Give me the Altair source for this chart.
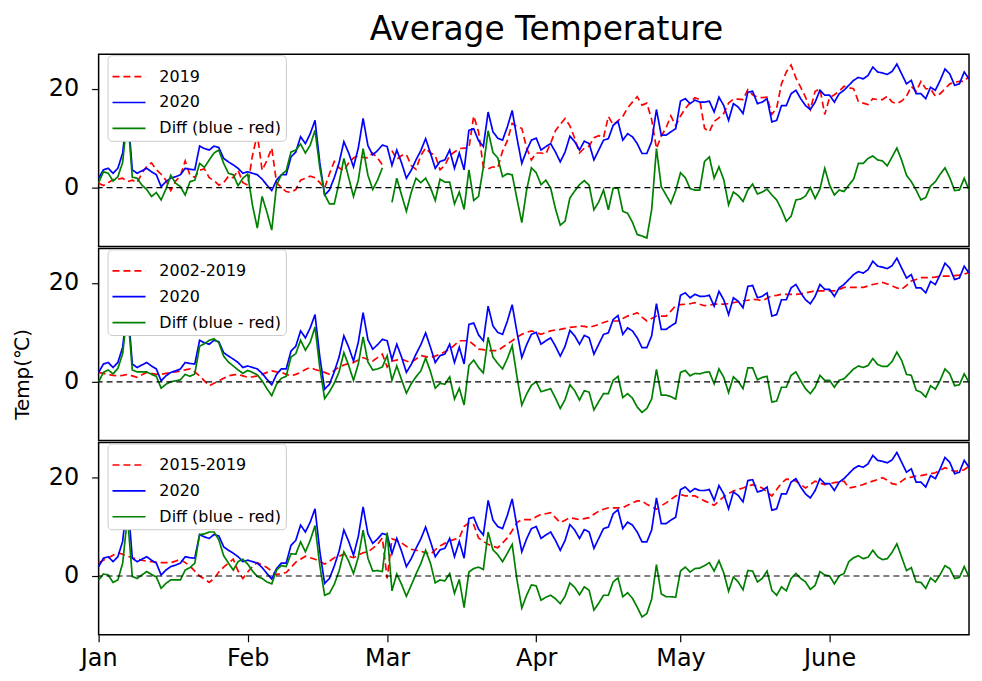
import json
import altair as alt
import numpy as np
import pandas as pd

# ---------------- data ----------------
dates = pd.date_range("2020-01-01", "2020-06-30", freq="D")  # 182 days

temp_2020 = [
    1.9, 3.6, 3.9, 2.9, 3.9, 7.0, 16.0, 3.6, 2.9, 3.4,
    3.9, 3.2, 2.6, 0.2, 1.2, 1.9, 2.2, 2.6, 3.9, 3.7,
    3.6, 8.4, 7.9, 7.6, 8.4, 8.1, 5.9, 5.2, 4.6, 3.9,
    2.9, 3.2, 2.9, 2.6, 1.7, 0.5, -0.6, 1.5, 2.6, 2.6,
    6.2, 7.2, 10.3, 8.9, 10.9, 13.6, 5.0, -1.5, -0.5, 2.0,
    5.0, 9.3, 7.0, 4.2, 8.0, 14.0, 8.5, 6.6, 7.5, 8.6,
    8.3, 4.5, 7.6, 5.0, 1.9, 3.5, 5.6, 7.5, 9.9, 7.0,
    3.9, 5.3, 5.6, 7.6, 3.9, 7.0, 3.6, 11.6, 11.9, 9.5,
    8.3, 15.3, 11.3, 10.0, 9.6, 12.3, 15.6, 10.0, 4.9, 7.5,
    9.6, 10.0, 7.6, 8.3, 8.9, 7.2, 5.2, 7.2, 10.4, 9.3,
    7.6, 9.4, 8.9, 5.6, 7.6, 9.6, 9.9, 12.6, 13.4, 9.6,
    10.9, 10.3, 8.9, 6.9, 6.9, 9.3, 15.8, 10.6, 10.6, 11.3,
    11.9, 17.5, 18.0, 17.0, 17.7, 17.3, 17.3, 17.5, 15.3, 18.3,
    16.6, 13.6, 17.0, 16.3, 15.0, 19.3, 19.5, 17.0, 17.3, 18.0,
    13.3, 13.6, 16.6, 16.6, 19.0, 19.7, 18.0, 16.6, 15.8, 17.3,
    19.7, 18.7, 18.7, 17.3, 19.0, 19.7, 20.7, 21.7, 22.3, 22.0,
    22.7, 24.4, 23.4, 23.2, 22.9, 23.5, 25.0, 23.0, 21.0, 21.7,
    19.0, 19.0, 18.0, 20.3, 19.7, 21.7, 24.0, 23.0, 20.7, 21.0,
    23.4, 22.0,
]

avg_2019 = [
    0.9, 0.4, 1.0, 1.6, 1.7, 1.9, 1.2, 1.5, 1.0, 2.9,
    4.3, 5.0, 3.6, 2.7, 1.5, -0.6, 1.3, 2.4, 5.4, 2.5,
    2.1, 3.5, 3.8, 2.0, 1.4, 0.5, 1.0, 2.3, 2.0, 3.5,
    1.0, 0.5, 6.5, 10.8, 3.5, 5.5, 8.0, 1.0, 0.0, -0.8,
    -1.0, -0.4, 1.5, 1.9, 2.3, 2.0, 1.0, -0.1, 2.8, 5.3,
    4.0, 3.4, 5.0, 6.0, 6.5, 6.1, 6.0, 7.0, 6.0, 4.6,
    None, 7.5, 5.7, 6.5, 6.7, 4.5, 3.7, 6.5, 8.0, 7.0,
    6.5, 3.6, 4.5, 6.5, 7.2, 7.9, 8.0, 8.0, 14.5, 11.3,
    4.2, 3.8, 4.2, 4.0, 7.4, 9.5, 13.0, 12.3, 12.0, 8.0,
    5.6, 7.0, 7.0, 6.8, 9.0, 11.5, 12.8, 14.0, 12.5, 10.0,
    7.0, 8.0, 8.4, 10.1, 10.5, 10.1, 14.4, 12.7, 13.5, 14.4,
    16.1, 17.3, 18.4, 16.7, 17.1, 13.8, 7.9, 10.4, 12.1, 14.5,
    12.5, 14.5, 16.0, 17.2, 18.2, 17.8, 12.0, 11.3, 13.4, 14.1,
    15.0, 17.1, 17.9, 17.9, 17.8, 19.8, 18.8, 18.3, 18.2, 18.3,
    14.8, 16.1, 21.0, 23.4, 24.8, 22.2, 20.3, 18.3, 15.8, 19.5,
    20.0, 14.8, 18.2, 18.8, 19.5, 20.5, 20.2, 20.0, 17.4, 17.1,
    16.8, 18.0, 17.8, 17.8, 18.5, 17.3, 17.0, 17.5, 18.5, 20.5,
    19.5, 21.5, 20.0, 20.0, 18.5, 19.0, 20.0, 21.0, 21.3, 21.5,
    21.5, 22.5,
]

avg_2002_2019 = [
    1.9, 1.7, 1.5, 1.3, 1.2, 1.3, 1.5, 1.2, 0.9, 1.4,
    1.9, 1.7, 1.5, 1.5, 1.7, 1.9, 2.0, 2.2, 2.4, 2.6,
    2.0, 1.2, 0.2, -0.8, -0.3, 0.2, 0.7, 1.2, 1.4, 1.5,
    1.2, 0.9, 1.0, 1.2, 1.5, 1.9, 2.2, 2.0, 1.9, 1.5,
    1.2, 1.5, 1.9, 2.5, 2.9, 2.5, 2.2, 1.9, 1.5, 2.3,
    3.0, 3.4, 3.7, 3.9, 4.4, 4.9, 4.5, 4.2, 4.9, 5.6,
    3.0, 4.2, 4.4, 4.6, 4.2, 3.9, 4.6, 5.3, 5.1, 4.9,
    5.2, 5.6, 6.1, 6.6, 7.4, 8.3, 8.3, 8.3, 7.5, 6.6,
    6.5, 6.3, 6.3, 6.3, 7.0, 7.6, 8.3, 9.0, 9.6, 10.0,
    10.3, 10.0, 9.6, 10.0, 10.3, 10.5, 10.6, 10.8, 11.0, 11.1,
    11.3, 11.2, 11.0, 11.3, 11.6, 12.0, 12.3, 12.3, 12.3, 12.8,
    13.3, 13.6, 14.0, 13.1, 12.3, 12.8, 13.3, 13.3, 13.3, 14.3,
    15.4, 15.6, 15.7, 15.8, 16.0, 15.7, 15.4, 15.5, 15.7, 15.7,
    15.7, 15.8, 16.0, 16.2, 16.4, 16.5, 16.7, 16.6, 16.4, 16.9,
    17.4, 17.5, 17.7, 17.7, 17.7, 17.7, 17.8, 18.0, 18.2, 18.4,
    18.4, 18.4, 18.4, 18.4, 18.7, 19.1, 19.1, 19.1, 19.1, 19.1,
    19.4, 19.7, 19.9, 20.1, 19.8, 19.4, 19.0, 18.7, 19.5, 20.4,
    20.7, 21.1, 21.1, 21.1, 21.2, 21.4, 21.4, 21.4, 21.5, 21.6,
    21.8, 22.1,
]

avg_2015_2019 = [
    2.7, 3.2, 3.7, 4.2, 4.7, 4.4, 4.0, 3.7, 3.4, 3.2,
    3.0, 2.9, 2.8, 2.7, 2.7, 2.7, 3.0, 3.4, 2.7, 2.0,
    1.0, 0.0, -0.6, -1.3, -0.5, 0.8, 1.8, 2.6, 3.4, 1.0,
    -0.5, 0.8, 1.9, 2.7, 2.2, 1.7, 1.0, 0.3, 0.5, 0.7,
    1.7, 2.8, 3.4, 4.0, 3.7, 3.4, 2.9, 2.4, 3.0, 3.7,
    4.0, 4.4, 4.0, 3.7, 4.2, 4.7, 4.9, 5.6, 6.4, 7.7,
    -0.5, 7.5, 7.2, 6.7, 6.0, 5.4, 5.2, 5.0, 4.7, 4.4,
    5.3, 6.1, 6.6, 7.1, 7.4, 7.7, 10.0, 10.8, 10.4, 7.7,
    7.0, 6.4, 6.0, 5.7, 6.7, 7.7, 9.2, 10.8, 11.4, 11.4,
    11.4, 12.0, 12.5, 12.6, 12.8, 11.8, 10.8, 11.3, 11.8, 11.6,
    11.4, 11.6, 11.8, 12.5, 13.1, 13.5, 13.8, 13.8, 13.8, 13.8,
    14.3, 14.8, 15.2, 15.2, 14.5, 14.0, 13.5, 14.2, 14.8, 15.5,
    16.2, 16.5, 16.2, 16.2, 16.2, 15.7, 15.2, 14.8, 14.3, 15.2,
    16.0, 16.7, 17.2, 17.5, 17.8, 18.2, 18.5, 18.2, 17.8, 17.0,
    16.2, 17.5, 18.8, 19.6, 19.5, 19.2, 18.5, 17.8, 18.5, 19.2,
    18.8, 18.5, 18.7, 18.9, 19.0, 19.2, 17.8, 18.0, 18.2, 18.5,
    18.9, 19.2, 19.5, 19.9, 19.4, 18.7, 18.5, 19.2, 19.9, 20.0,
    20.2, 20.3, 20.5, 20.7, 20.9, 21.4, 21.9, 21.5, 21.2, 21.3,
    21.5, 22.2,
]

reference_labels = ["2019", "2002-2019", "2015-2019"]
reference_series = [avg_2019, avg_2002_2019, avg_2015_2019]
label_2020 = "2020"
label_diff = "Diff (blue - red)"
month_labels = ["Jan", "Feb", "Mar", "Apr", "May", "June"]
y_ticks = [0, 20]

for s in [temp_2020] + reference_series:
    assert len(s) == len(dates), len(s)

# ---------------- styling ----------------
FONT = "DejaVu Sans"
COLORS = ["#ff0000", "#0000ff", "#008000"]
DASHES = [[7, 4], [1, 0], [1, 0]]
PANEL_W, PANEL_H = 874, 193
Y_DOMAIN = [-11.9, 27.0]
X_DOMAIN = [alt.DateTime(year=2020, month=1, date=1), alt.DateTime(year=2020, month=6, date=30)]
month_expr = json.dumps(month_labels).replace('"', "'") + "[month(datum.value)]"


def make_panel(ref_values, ref_label, position):
    blue = np.array(temp_2020, dtype=float)
    red = np.array([np.nan if v is None else v for v in ref_values], dtype=float)
    diff = blue - red
    names = [ref_label, label_2020, label_diff]
    df = pd.concat(
        [pd.DataFrame({"date": dates, "series": n, "temp": v}) for n, v in zip(names, [red, blue, diff])],
        ignore_index=True,
    )

    if position == "bottom":
        x_axis = alt.Axis(
            values=[alt.DateTime(year=2020, month=m, date=1) for m in range(1, 7)],
            labelExpr=month_expr, labelFontSize=24, labelFlush=False, labelOverlap=False,
            labelBaseline="alphabetic", labelPadding=24,
            tickSize=7, tickWidth=1.2, domain=False, grid=False, title=None,
        )
    else:
        x_axis = None

    y_kwargs = dict(values=y_ticks, format="d", labelFontSize=24, tickSize=7, tickWidth=1.2,
                    domain=False, grid=False, labelPadding=13)
    if position == "middle":
        y_axis = alt.Axis(title="Temp(℃)", titleFontSize=20, titleFontWeight="normal",
                          titleX=-76, titleY=126, titleBaseline="middle", **y_kwargs)
    else:
        y_axis = alt.Axis(title=None, **y_kwargs)

    legend = alt.Legend(
        title=None, orient="none", legendX=9, legendY=1, labelFontSize=16, labelFont=FONT,
        symbolType="stroke", symbolSize=1100, symbolStrokeWidth=1.7, labelOffset=13,
        fillColor="white", strokeColor="#cccccc", cornerRadius=4, padding=4, rowPadding=-12.5,
    )
    x = alt.X("date:T", scale=alt.Scale(domain=X_DOMAIN), axis=x_axis)
    y = alt.Y("temp:Q", scale=alt.Scale(domain=Y_DOMAIN), axis=y_axis)
    color = alt.Color("series:N", scale=alt.Scale(domain=names, range=COLORS), legend=legend)
    dash = alt.StrokeDash("series:N", scale=alt.Scale(domain=names, range=DASHES), legend=legend)

    layers = [
        alt.Chart(df).transform_filter(alt.datum.series == n)
        .mark_line(strokeWidth=1.7, invalid="break-paths-show-domains")
        .encode(x=x, y=y, color=color, strokeDash=dash)
        for n in names
    ]
    zero = alt.Chart(pd.DataFrame({"temp": [0.0]})).mark_rule(
        color="black", strokeDash=[6, 4], strokeWidth=1.2
    ).encode(y=y)
    return alt.layer(*layers, zero).properties(width=PANEL_W, height=PANEL_H)


panels = [
    make_panel(reference_series[0], reference_labels[0], "top"),
    make_panel(reference_series[1], reference_labels[1], "middle"),
    make_panel(reference_series[2], reference_labels[2], "bottom"),
]

chart = (
    alt.vconcat(*panels, spacing=0)
    .resolve_scale(color="independent", strokeDash="independent", x="independent", y="independent")
    .resolve_legend(color="independent", strokeDash="independent")
    .properties(
        title=alt.TitleParams("Average Temperature", anchor="middle", fontSize=33, font=FONT,
                              fontWeight="normal", baseline="alphabetic", offset=-20, dx=54),
        autosize=alt.AutoSizeParams(type="pad"),
        padding={"left": 4, "top": 5, "right": 0, "bottom": 0},
    )
    .configure_view(stroke="black", strokeWidth=1.5)
    .configure_axis(labelFont=FONT, titleFont=FONT, labelColor="black", tickColor="black", titleColor="black")
    .configure_legend(labelFont=FONT)
)

chart.save("out.html", embed_options={"renderer": "svg", "actions": False})
